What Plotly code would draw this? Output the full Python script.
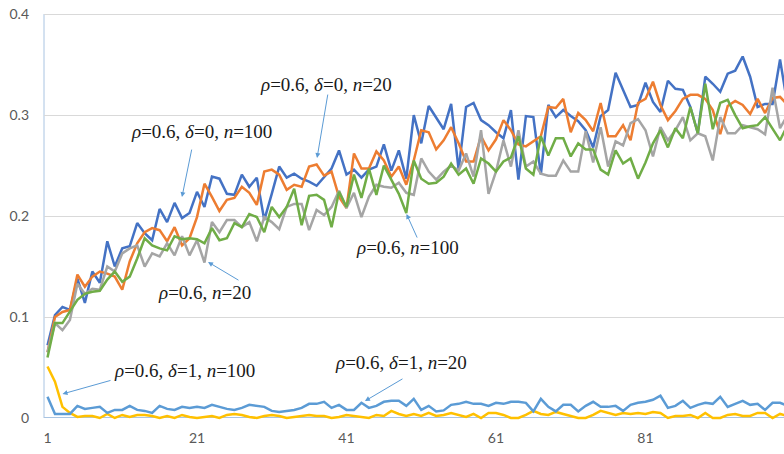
import plotly.graph_objects as go

x_vals = list(range(1, 101))

s_d0_n20 = [0.072,0.102,0.110,0.107,0.138,0.114,0.145,0.134,0.175,0.150,
0.168,0.170,0.193,0.183,0.176,0.207,0.194,0.213,0.198,0.203,
0.224,0.209,0.239,0.237,0.222,0.221,0.241,0.229,0.238,0.196,
0.222,0.249,0.238,0.242,0.237,0.234,0.230,0.239,0.247,0.265,
0.241,0.246,0.238,0.246,0.249,0.271,0.245,0.265,0.237,0.300,
0.272,0.309,0.298,0.286,0.311,0.246,0.308,0.312,0.295,0.290,
0.283,0.277,0.305,0.236,0.299,0.298,0.241,0.310,0.298,0.305,
0.299,0.294,0.285,0.268,0.299,0.305,0.342,0.325,0.308,0.310,
0.332,0.313,0.303,0.334,0.326,0.325,0.308,0.282,0.338,0.331,
0.323,0.341,0.344,0.358,0.338,0.308,0.311,0.311,0.355,0.310]

s_d0_n100 = [0.065,0.100,0.105,0.107,0.142,0.130,0.140,0.145,0.143,0.140,
0.127,0.155,0.173,0.184,0.188,0.186,0.175,0.189,0.171,0.178,
0.199,0.232,0.219,0.205,0.216,0.218,0.229,0.223,0.211,0.244,
0.246,0.241,0.226,0.231,0.229,0.249,0.251,0.240,0.244,0.219,
0.208,0.262,0.247,0.247,0.264,0.255,0.239,0.249,0.231,0.255,
0.285,0.283,0.266,0.275,0.288,0.272,0.254,0.254,0.279,0.265,
0.276,0.295,0.285,0.271,0.269,0.274,0.279,0.308,0.307,0.316,
0.283,0.302,0.295,0.284,0.312,0.279,0.279,0.290,0.275,0.312,
0.316,0.333,0.310,0.295,0.304,0.316,0.320,0.320,0.316,0.305,
0.281,0.309,0.314,0.310,0.301,0.316,0.302,0.317,0.318,0.310]

s_n20 = [0.065,0.094,0.087,0.097,0.133,0.123,0.128,0.127,0.150,0.145,
0.163,0.168,0.171,0.150,0.163,0.160,0.173,0.161,0.180,0.161,
0.176,0.154,0.194,0.184,0.196,0.196,0.189,0.194,0.175,0.199,
0.194,0.187,0.209,0.212,0.212,0.186,0.206,0.201,0.209,0.225,
0.208,0.223,0.199,0.219,0.231,0.229,0.228,0.233,0.223,0.221,
0.257,0.244,0.236,0.244,0.250,0.245,0.262,0.239,0.285,0.222,
0.244,0.275,0.249,0.285,0.249,0.254,0.242,0.240,0.240,0.255,
0.244,0.244,0.284,0.253,0.288,0.249,0.274,0.270,0.292,0.296,
0.285,0.259,0.288,0.275,0.285,0.298,0.275,0.282,0.279,0.255,
0.298,0.282,0.282,0.290,0.288,0.286,0.281,0.327,0.287,0.300]

s_n100 = [0.060,0.094,0.094,0.105,0.117,0.123,0.125,0.126,0.137,0.145,
0.135,0.140,0.158,0.178,0.171,0.168,0.166,0.180,0.177,0.178,
0.177,0.173,0.188,0.176,0.178,0.193,0.189,0.202,0.199,0.184,
0.209,0.199,0.209,0.227,0.191,0.220,0.221,0.216,0.189,0.224,
0.209,0.241,0.218,0.247,0.221,0.250,0.236,0.222,0.203,0.255,
0.237,0.232,0.233,0.239,0.252,0.241,0.247,0.232,0.257,0.252,
0.244,0.254,0.258,0.279,0.247,0.241,0.279,0.260,0.277,0.277,
0.259,0.272,0.266,0.266,0.246,0.241,0.265,0.252,0.257,0.237,
0.253,0.272,0.285,0.268,0.287,0.277,0.308,0.282,0.331,0.286,
0.312,0.315,0.300,0.287,0.289,0.290,0.298,0.286,0.275,0.290]

s_d1_n20 = [0.021,0.004,0.004,0.004,0.012,0.009,0.010,0.011,0.005,0.008,
0.008,0.012,0.008,0.007,0.005,0.012,0.009,0.008,0.011,0.010,
0.011,0.010,0.013,0.011,0.009,0.008,0.010,0.013,0.012,0.011,
0.007,0.006,0.007,0.008,0.010,0.014,0.014,0.016,0.010,0.013,
0.008,0.008,0.015,0.010,0.012,0.016,0.017,0.017,0.012,0.019,
0.008,0.012,0.0065,0.0075,0.013,0.014,0.016,0.014,0.014,0.012,
0.015,0.014,0.016,0.016,0.015,0.0065,0.019,0.011,0.0065,0.013,
0.013,0.0065,0.012,0.016,0.011,0.011,0.012,0.007,0.013,0.015,
0.016,0.018,0.022,0.010,0.012,0.017,0.010,0.013,0.015,0.014,
0.021,0.011,0.014,0.017,0.013,0.014,0.008,0.015,0.015,0.012]

s_d1_n100 = [0.051,0.036,0.011,0.005,0.001,0.002,0.002,0.000,0.004,0.000,
0.003,0.001,0.003,0.003,0.002,0.000,0.002,0.000,0.003,0.001,
0.000,0.001,0.002,0.000,0.003,0.004,0.003,0.001,0.000,0.002,
0.003,0.002,0.000,0.001,0.002,0.003,0.002,0.002,0.000,0.001,
0.003,0.002,0.001,0.000,0.003,0.002,0.007,0.004,0.002,0.004,
0.002,0.005,0.002,0.003,0.005,0.003,0.001,0.004,0.000,0.005,
0.005,0.003,0.000,0.000,0.003,0.007,0.004,0.003,0.006,0.004,
0.002,0.000,0.000,0.003,0.007,0.005,0.003,0.005,0.004,0.005,
0.004,0.006,0.005,0.000,0.002,0.002,0.003,0.000,0.005,0.000,
0.000,0.003,0.004,0.002,0.002,0.005,0.005,0.000,0.004,0.002]

series_names = ["δ=0, n=20", "δ=0, n=100", "n=20", "δ=1, n=100", "δ=1, n=20", "n=100"]
series_values = [s_d0_n20, s_d0_n100, s_n20, s_d1_n100, s_d1_n20, s_n100]
series_colors = ["#4472C4", "#ED7D31", "#A5A5A5", "#FFC000", "#5B9BD5", "#70AD47"]

y_ticks = [0, 0.1, 0.2, 0.3, 0.4]
y_ticklabels = ["0", "0.1", "0.2", "0.3", "0.4"]
x_ticks = [1, 21, 41, 61, 81]

# annotation labels: text, text position (x, y), arrow tail (x, y), arrow head (x, y)
labels = [
    ("<i>ρ</i>=0.6, <i>δ</i>=0, <i>n</i>=20", (38.26, 0.3307), (38.53, 0.3218), (37.06, 0.2574)),
    ("<i>ρ</i>=0.6, <i>δ</i>=0, <i>n</i>=100", (21.54, 0.2842), (20.33, 0.2673), (18.99, 0.2188)),
    ("<i>ρ</i>=0.6, <i>n</i>=100", (49.20, 0.1693), (50.54, 0.1772), (49.03, 0.2020)),
    ("<i>ρ</i>=0.6, <i>n</i>=20", (21.94, 0.1238), (26.75, 0.1356), (22.47, 0.1545)),
    ("<i>ρ</i>=0.6, <i>δ</i>=1, <i>n</i>=100", (19.39, 0.0475), (9.63, 0.0376), (3.01, 0.0238)),
    ("<i>ρ</i>=0.6, <i>δ</i>=1, <i>n</i>=20", (48.29, 0.0554), (48.69, 0.0396), (43.47, 0.0168)),
]

fig = go.Figure()
for name, vals, col in zip(series_names, series_values, series_colors):
    fig.add_trace(go.Scatter(x=x_vals, y=vals, mode="lines", name=name,
                             line=dict(color=col, width=2.5), showlegend=False))

annots = []
for text, tpos, tail, head in labels:
    annots.append(dict(x=tpos[0], y=tpos[1], xref="x", yref="y", text=text,
                       showarrow=False, font=dict(family="Liberation Serif", size=19, color="#1a1a1a")))
    annots.append(dict(x=head[0], y=head[1], ax=tail[0], ay=tail[1], xref="x", yref="y",
                       axref="x", ayref="y", text="", showarrow=True, arrowhead=2,
                       arrowsize=1, arrowwidth=1, arrowcolor="#5B9BD5"))

fig.update_layout(
    width=784, height=454,
    margin=dict(l=44, r=0, t=4, b=34, autoexpand=False),
    plot_bgcolor="white", paper_bgcolor="white",
    annotations=annots,
    shapes=[dict(type="line", xref="paper", yref="y", x0=0, x1=0, y0=0, y1=y_ticks[-1],
                 line=dict(color="#A9C4E2", width=1), layer="below")],
)
fig.update_xaxes(range=[0.532, 99.53], tickvals=x_ticks, showgrid=False, zeroline=False,
                 showline=False, ticks="", ticklabelstandoff=8, automargin=False,
                 tickfont=dict(family="Lato", size=14, color="#595959"))
fig.update_yaxes(range=[-0.002, 0.41], tickvals=y_ticks, ticktext=y_ticklabels,
                 showgrid=True, gridcolor="#D9D9D9", gridwidth=1,
                 zeroline=True, zerolinecolor="#A9C4E2", zerolinewidth=1,
                 showline=False, ticks="",
                 ticklabelstandoff=14, automargin=False,
                 tickfont=dict(family="Lato", size=14, color="#595959"))

fig.write_html("out.html", config={"displayModeBar": False},
               post_script="document.body.style.margin='0px';")
